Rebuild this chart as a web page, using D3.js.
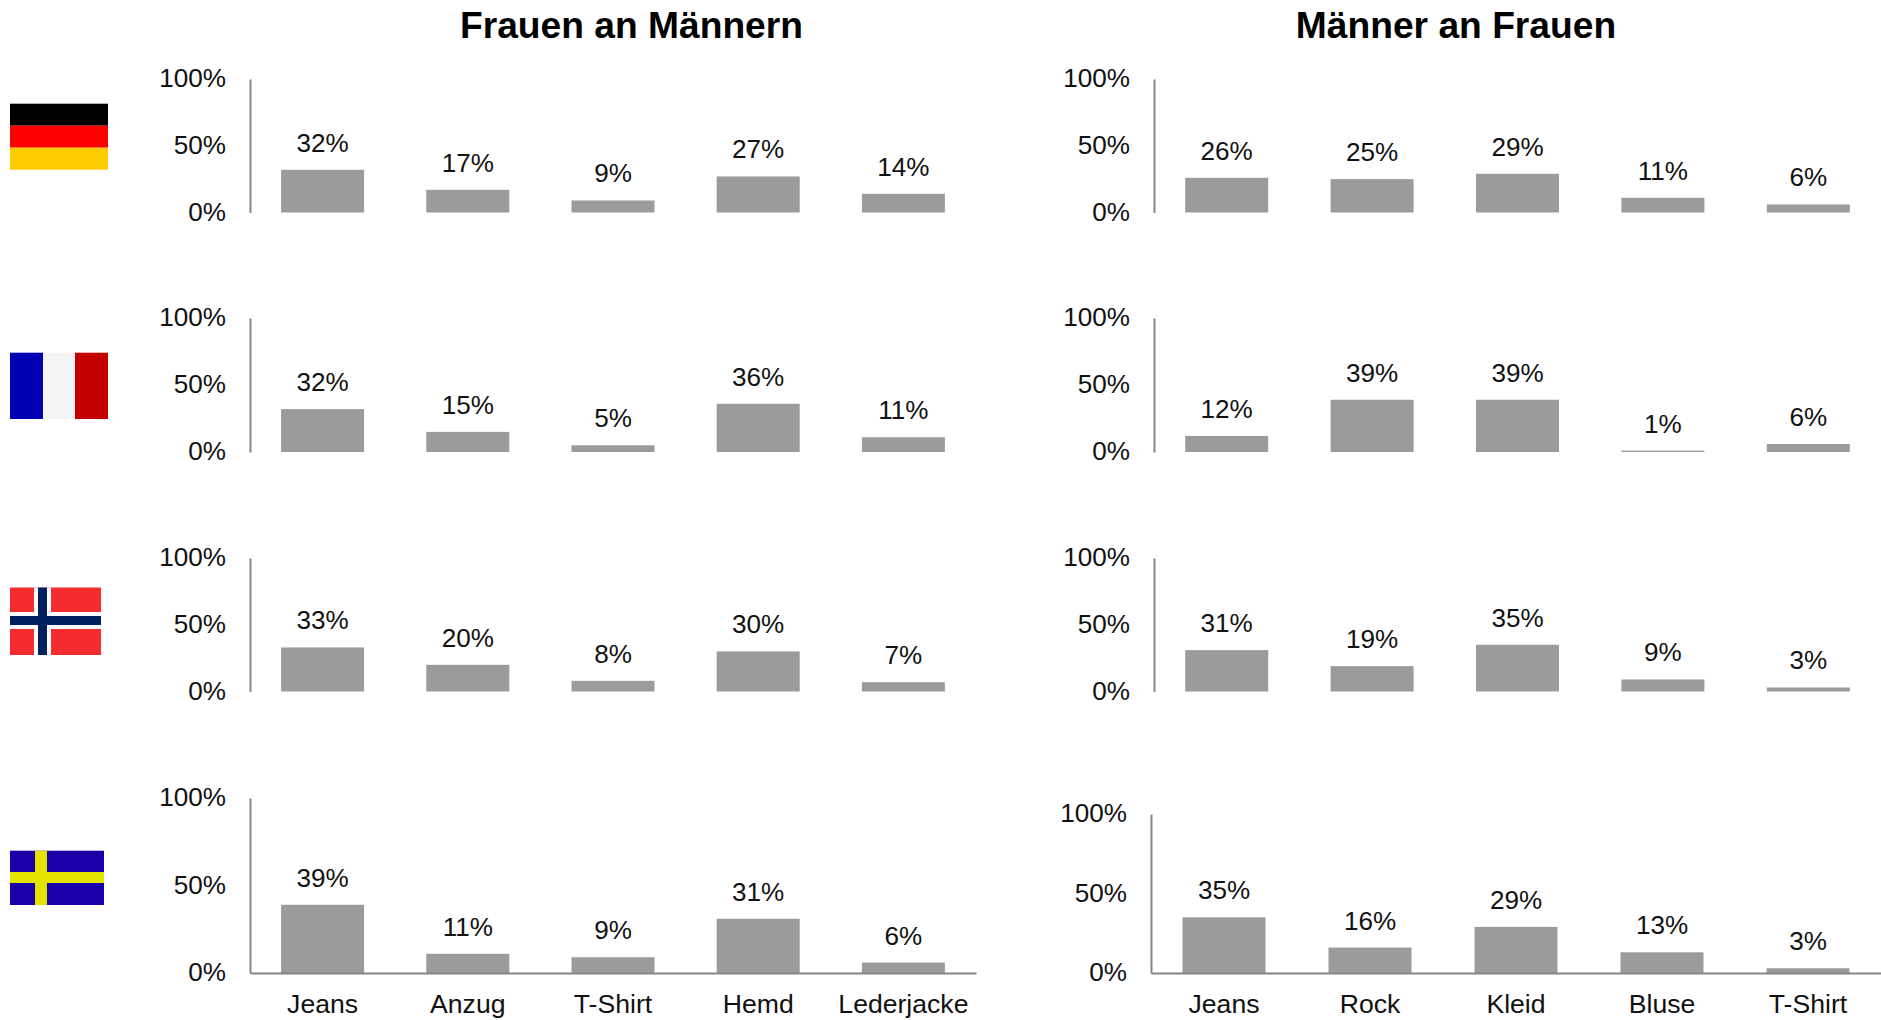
<!DOCTYPE html>
<html><head><meta charset="utf-8">
<script src="https://cdn.jsdelivr.net/npm/d3@7"></script>
<style>
html,body{margin:0;padding:0;background:#fff;overflow:hidden}
svg{display:block}
text{font-family:"Liberation Sans",Arial,sans-serif;fill:#111}
</style></head><body>
<svg id="c" width="1881" height="1020"></svg>
<script>
const categoriesLeft = ["Jeans","Anzug","T-Shirt","Hemd","Lederjacke"];
const categoriesRight = ["Jeans","Rock","Kleid","Bluse","T-Shirt"];
const titles = ["Frauen an Männern","Männer an Frauen"];
const yTicks = [0,50,100];
const deLeft = [32,17,9,27,14], deRight = [26,25,29,11,6];
const frLeft = [32,15,5,36,11], frRight = [12,39,39,1,6];
const noLeft = [33,20,8,30,7],  noRight = [31,19,35,9,3];
const seLeft = [39,11,9,31,6],  seRight = [35,16,29,13,3];

const layout = [
 {v:deLeft, c:categoriesLeft, x0:250,x1:976,top:79,bot:212.5},
 {v:frLeft, c:categoriesLeft, x0:250,x1:976,top:318,bot:452},
 {v:noLeft, c:categoriesLeft, x0:250,x1:976,top:558,bot:691.5},
 {v:seLeft, c:categoriesLeft, x0:250,x1:976,top:798,bot:973,base:true},
 {v:deRight,c:categoriesRight,x0:1154,x1:1881,top:79,bot:212.5},
 {v:frRight,c:categoriesRight,x0:1154,x1:1881,top:318,bot:452},
 {v:noRight,c:categoriesRight,x0:1154,x1:1881,top:558,bot:691.5},
 {v:seRight,c:categoriesRight,x0:1151,x1:1881,top:814,bot:973,base:true}
];
const svg = d3.select("#c");
svg.selectAll("text.title").data(titles).join("text").attr("class","title")
  .attr("x",(d,i)=>[631.5,1456][i]).attr("y",38).attr("text-anchor","middle")
  .attr("font-size",37.2).attr("font-weight","bold").style("fill","#000").text(d=>d);

const axisColor="#868686", barColor="#9b9b9b", fs=26.1;
layout.forEach(p=>{
  const g=svg.append("g");
  const x=d3.scaleBand().domain(p.c).range([p.x0,p.x1]).padding(0);
  const y=d3.scaleLinear().domain([0,100]).range([p.bot,p.top]);
  const bw=83;
  g.selectAll("rect").data(p.v).join("rect")
    .attr("x",(d,i)=>x(p.c[i])+x.bandwidth()/2-bw/2)
    .attr("y",d=>y(d)).attr("width",bw).attr("height",d=>y(0)-y(d)).attr("fill",barColor);
  g.selectAll("text.val").data(p.v).join("text").attr("class","val")
    .attr("x",(d,i)=>x(p.c[i])+x.bandwidth()/2).attr("y",d=>y(d)-18)
    .attr("text-anchor","middle").attr("font-size",fs).text(d=>d+"%");
  const ya=g.append("g").attr("transform",`translate(${p.x0},0)`)
    .call(d3.axisLeft(y).tickValues(yTicks).tickSize(0).tickPadding(24).tickFormat(d=>d+"%"));
  ya.selectAll("text").attr("font-size",fs).attr("dy","0.3em").style("font-family",'"Liberation Sans",Arial,sans-serif');
  ya.select(".domain").attr("stroke",axisColor).attr("stroke-width",2);
  if(p.base){
    const xa=g.append("g").attr("transform",`translate(0,${p.bot})`)
      .call(d3.axisBottom(x).tickSize(0).tickPadding(21));
    xa.selectAll("text").attr("font-size",26.6).style("font-family",'"Liberation Sans",Arial,sans-serif');
    xa.select(".domain").attr("stroke",axisColor).attr("stroke-width",2);
  }
});

// flags
const flagParts = [
 [10,103.7,98,22,"#000"],[10,125.7,98,22,"#f00"],[10,147.7,98,22,"#fc0"],
 [10,352.7,33,66.3,"#0000b4"],[43,352.7,32,66.3,"#f5f5f5"],[75,352.7,33,66.3,"#c40000"],
 [10,587.5,91,67.5,"#f42c30"],[34,587.5,17,67.5,"#fff"],[10,612,91,17,"#fff"],[38,587.5,9,67.5,"#002060"],[10,616,91,9,"#002060"],
 [10,850.7,94,54.3,"#1a00a8"],[35,850.7,12,54.3,"#e3e300"],[10,872,94,11,"#e3e300"]
];
svg.append("g").selectAll("rect").data(flagParts).join("rect")
  .attr("x",d=>d[0]).attr("y",d=>d[1]).attr("width",d=>d[2]).attr("height",d=>d[3]).attr("fill",d=>d[4]);
</script>
</body></html>
